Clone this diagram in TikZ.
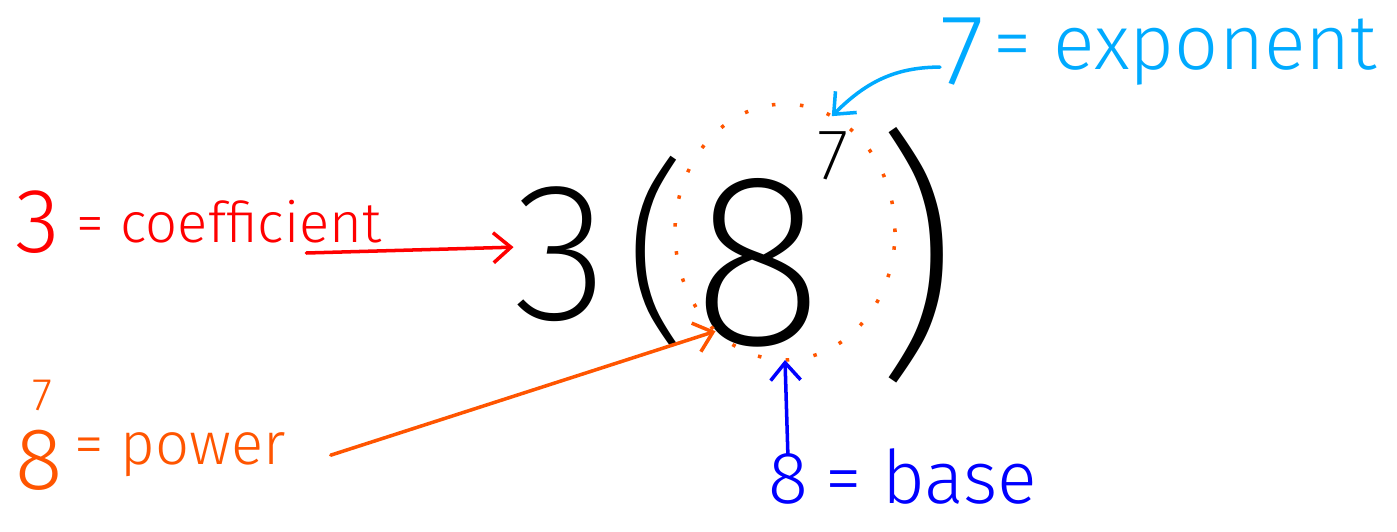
\documentclass[tikz,border=0pt]{standalone}
\usepackage{fontspec}
\setmainfont{Fira Sans Light}
\newfontfamily\thinhand{Fira Sans ExtraLight}
\usetikzlibrary{positioning}
\usetikzlibrary{shapes.geometric}
\usetikzlibrary{arrows.meta}

\definecolor{cfred}{RGB}{255,0,0}
\definecolor{pworange}{RGB}{255,85,0}
\definecolor{exblue}{RGB}{0,170,255}
\definecolor{bsblue}{RGB}{0,0,255}

\newcommand{\fsz}[1]{\fontsize{#1}{#1}\selectfont}

\begin{document}
\begin{tikzpicture}[line width=2pt]
    \tikzset{
        every node/.style={inner sep=0pt, outer sep=0pt},
        big/.style={text=black, font=\thinhand},
        barb/.style={-{Straight Barb[length=3.5mm,width=6mm]}, line cap=round},
        ring/.style={ellipse, draw=pworange, line width=2pt, dash pattern=on 2pt off 14pt}
    }
    \useasboundingbox (0,0) rectangle (27.94,10.62);

    % the expression 3(8^7)
    \node[big, font=\thinhand\fsz{112}, anchor=base] (three) at (11.22,4.22) {3};
    \node[big, font=\thinhand\fsz{112}] (lpar) at (13.12,5.58) {(};
    \node[big, font=\thinhand\fsz{140}, anchor=base, text height=3.3cm, text depth=0pt] (eight) at (15.16,3.72) {8};
    \node[big, font=\thinhand\fsz{41}, anchor=base, text height=1cm, text depth=0pt] (seven) at (16.66,7.02) {7};
    \node[big, font=\thinhand\fsz{150}] (rpar) at (18.32,5.52) {)};

    % dotted ring round 8^7
    \node[ring, minimum width=4.4cm, minimum height=5.12cm] (ring) at (15.7,5.98) {};

    % coefficient
    \node[text=cfred, font=\fsz{52}, anchor=base west] (cf3) at (0.3,5.56) {3};
    \node[text=cfred, font=\fsz{32}, anchor=base west] (cfeq) at ([xshift=0.35cm,yshift=0.2cm]cf3.base east) {= coefficient};
    \draw[barb, cfred] ([xshift=-1.5cm,yshift=-0.2cm]cfeq.base east) -- ([yshift=0.15cm]three.west);

    % power
    \node[text=pworange, font=\fsz{50}, anchor=base west] (pw8) at (0.3,0.82) {8\kern-0.6cm\raisebox{1.6cm}{\fsz{26}7}};
    \node[text=pworange, font=\fsz{34}, anchor=base west] (pweq) at ([xshift=0.45cm,yshift=0.5cm]pw8.base east) {= power};
    \draw[barb, pworange] ([xshift=0.9cm]pweq.east) -- (ring.235);

    % exponent
    \node[text=exblue, font=\fsz{57}, anchor=base west] (ex7) at (18.8,8.92) {7};
    \node[text=exblue, font=\fsz{44}, anchor=base west] (exeq) at ([xshift=0.2cm,yshift=0.3cm]ex7.base east) {= exponent};
    \draw[barb, exblue] ([yshift=-0.3cm]ex7.west) to[out=180, in=45] (ring.68);

    % base
    \node[text=bsblue, font=\fsz{42}, anchor=base west] (bs8) at (15.36,0.55) {8};
    \node[text=bsblue, font=\fsz{42}, anchor=base west] (bseq) at ([xshift=0.35cm]bs8.base east) {= base};
    \draw[barb, bsblue] (bs8.north) -- (ring.south);

\end{tikzpicture}
\end{document}
